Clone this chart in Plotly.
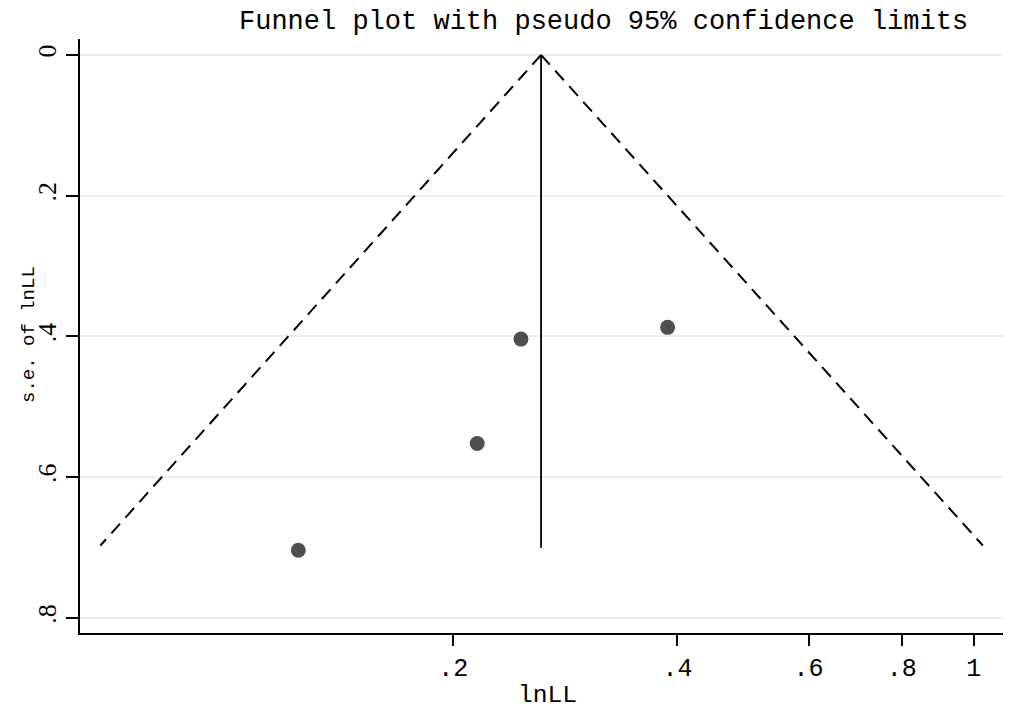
import plotly.graph_objects as go

# ---- data ----
effect = [0.1239, 0.2154, 0.2466, 0.388]      # lnLL (shown on log scale, exponentiated)
se = [0.7037, 0.552, 0.4037, 0.387]           # s.e. of lnLL
pooled = 0.2624                                # pooled estimate (vertical line)
pooled_se_end = 0.70
funnel_se = [0.0, 0.697]
funnel_lower = [0.2624, 0.0672]
funnel_upper = [0.2624, 1.028]

x_ticks = [0.2, 0.4, 0.6, 0.8, 1.0]
x_ticklabels = [".2", ".4", ".6", ".8", "1"]
y_ticks = [0, 0.2, 0.4, 0.6, 0.8]
y_ticklabels = ["0", ".2", ".4", ".6", ".8"]

title_text = "Funnel plot with pseudo 95% confidence limits"
x_title = "lnLL"
y_title = "s.e. of lnLL"

# ---- layout geometry ----
W, H = 1018, 709
L, R, T, B = 80, 15, 39, 76
pw, ph = W - L - R, H - T - B

def px_x(px):
    return (px - L) / pw

def px_y(py):
    return (H - B - py) / ph

mono = "Liberation Mono"
serif = "Liberation Serif"

fig = go.Figure()

dash_line = dict(color="black", width=2, dash="13px,8px")
fig.add_trace(go.Scatter(x=funnel_lower, y=funnel_se, mode="lines",
                         line=dash_line, hoverinfo="skip", showlegend=False))
fig.add_trace(go.Scatter(x=funnel_upper, y=funnel_se, mode="lines",
                         line=dash_line, hoverinfo="skip", showlegend=False))
fig.add_trace(go.Scatter(x=[pooled, pooled], y=[0, pooled_se_end], mode="lines",
                         line=dict(color="black", width=1.8),
                         hoverinfo="skip", showlegend=False))
fig.add_trace(go.Scatter(x=effect, y=se, mode="markers",
                         marker=dict(color="#4f4f4f", size=15, line=dict(width=0)),
                         showlegend=False))

fig.update_layout(
    width=W, height=H,
    margin=dict(l=L, r=R, t=T, b=B),
    paper_bgcolor="white", plot_bgcolor="white",
    showlegend=False,
    xaxis=dict(
        type="log", range=[-1.2, 0.0391],
        tickvals=x_ticks, ticktext=x_ticklabels,
        showgrid=False, zeroline=False,
        showline=True, linecolor="black", linewidth=2,
        ticks="outside", ticklen=11, tickwidth=2, tickcolor="black",
        tickfont=dict(family=mono, size=25, color="black"),
    ),
    yaxis=dict(
        range=[0.8213, -0.0227],
        tickvals=y_ticks, ticktext=y_ticklabels,
        showgrid=True, gridcolor="#eeeeee", gridwidth=1.5,
        zeroline=False,
        showline=True, linecolor="black", linewidth=2,
        ticks="outside", ticklen=12, tickwidth=2, tickcolor="black",
        tickangle=-90,
        tickfont=dict(family=serif, size=26, color="black"),
    ),
    annotations=[
        dict(text=title_text, xref="paper", yref="paper",
             x=px_x(603), y=px_y(22), xanchor="center", yanchor="middle",
             showarrow=False, font=dict(family=mono, size=27, color="black")),
        dict(text=x_title, xref="paper", yref="paper",
             x=px_x(547), y=px_y(695), xanchor="center", yanchor="middle",
             showarrow=False, font=dict(family=mono, size=24.6, color="black")),
        dict(text=y_title, xref="paper", yref="paper",
             x=px_x(29), y=px_y(335), xanchor="center", yanchor="middle",
             textangle=-90,
             showarrow=False, font=dict(family=mono, size=19, color="black")),
    ],
)

fig.write_html(
    "out.html",
    config={"displayModeBar": False},
    post_script="document.body.style.margin='0';document.body.style.overflow='hidden';",
)
